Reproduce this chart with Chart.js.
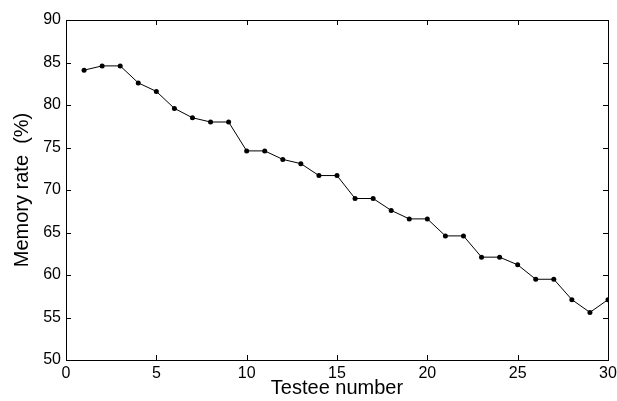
<!DOCTYPE html>
<html lang="en">

<head>
    <meta charset="UTF-8">
    <title>Memory rate</title>
    <script src="https://cdn.jsdelivr.net/npm/chart.js"></script>
    <style>
        body { margin: 0; background: #fff; }
        #wrap { width: 617px; height: 401px; position: relative; }
    </style>
</head>

<body>
    <div id="wrap">
        <canvas id="memoryChart"></canvas>
    </div>

    <script>
        // testee numbers and memory rates
        const testees = [1, 2, 3, 4, 5, 6, 7, 8, 9, 10, 11, 12, 13, 14, 15,
            16, 17, 18, 19, 20, 21, 22, 23, 24, 25, 26, 27, 28, 29, 30];
        const memoryRate = [84.1, 84.6, 84.6, 82.6, 81.6, 79.6, 78.5, 78.0, 78.0, 74.6,
            74.6, 73.6, 73.1, 71.7, 71.7, 69.0, 69.0, 67.6, 66.6, 66.6,
            64.6, 64.6, 62.1, 62.1, 61.2, 59.5, 59.5, 57.1, 55.6, 57.1];
        const xTicks = [0, 5, 10, 15, 20, 25, 30];
        const yTicks = [50, 55, 60, 65, 70, 75, 80, 85, 90];

        // matlab style box with inward ticks on all four sides
        const boxPlugin = {
            id: 'box',
            afterDatasetsDraw(chart) {
                const { ctx, chartArea: a, scales } = chart;
                const len = 5;
                ctx.save();
                ctx.strokeStyle = '#000';
                ctx.lineWidth = 1;
                ctx.beginPath();
                xTicks.forEach(v => {
                    const x = Math.round(scales.x.getPixelForValue(v)) + 0.5;
                    ctx.moveTo(x, a.bottom); ctx.lineTo(x, a.bottom - len);
                    ctx.moveTo(x, a.top); ctx.lineTo(x, a.top + len);
                });
                yTicks.forEach(v => {
                    const y = Math.round(scales.y.getPixelForValue(v)) + 0.5;
                    ctx.moveTo(a.left, y); ctx.lineTo(a.left + len, y);
                    ctx.moveTo(a.right, y); ctx.lineTo(a.right - len, y);
                });
                ctx.stroke();
                ctx.strokeRect(Math.round(a.left) + 0.5, Math.round(a.top) + 0.5,
                    Math.round(a.right - a.left), Math.round(a.bottom - a.top));
                ctx.restore();
            }
        };

        const tickFont = { family: '"Liberation Sans", Arial, sans-serif', size: 16 };
        const titleFont = { family: '"Liberation Sans", Arial, sans-serif', size: 20 };

        new Chart(document.getElementById('memoryChart'), {
            type: 'line',
            data: {
                datasets: [{
                    label: 'Memory rate',
                    data: testees.map((t, i) => ({ x: t, y: memoryRate[i] })),
                    borderColor: '#000',
                    backgroundColor: '#000',
                    borderWidth: 1,
                    pointRadius: 2.5,
                    pointBorderWidth: 0,
                    tension: 0
                }]
            },
            options: {
                responsive: true,
                maintainAspectRatio: false,
                animation: false,
                layout: { padding: { top: 20, right: 9, left: 0, bottom: 0 } },
                plugins: {
                    legend: { display: false },
                    tooltip: { enabled: false }
                },
                scales: {
                    x: {
                        type: 'linear',
                        min: 0,
                        max: 30,
                        afterBuildTicks: s => { s.ticks = xTicks.map(v => ({ value: v })); },
                        afterFit: s => { s.height = 41; s.paddingLeft = 0; s.paddingRight = 0; },
                        grid: { display: false, drawTicks: false },
                        border: { display: false },
                        ticks: { color: '#000', font: tickFont, padding: 4, maxRotation: 0 },
                        title: {
                            display: true,
                            text: 'Testee number',
                            color: '#000',
                            font: titleFont,
                            padding: { top: 0, bottom: 1 }
                        }
                    },
                    y: {
                        min: 50,
                        max: 90,
                        afterBuildTicks: s => { s.ticks = yTicks.map(v => ({ value: v })); },
                        afterFit: s => { s.width = 66; s.paddingTop = 0; s.paddingBottom = 0; },
                        grid: { display: false, drawTicks: false },
                        border: { display: false },
                        ticks: { color: '#000', font: tickFont, padding: 5 },
                        title: {
                            display: true,
                            text: 'Memory rate  (%)',
                            color: '#000',
                            font: titleFont,
                            padding: { top: 10, bottom: 0 }
                        }
                    }
                }
            },
            plugins: [boxPlugin]
        });
    </script>

</body>

</html>
